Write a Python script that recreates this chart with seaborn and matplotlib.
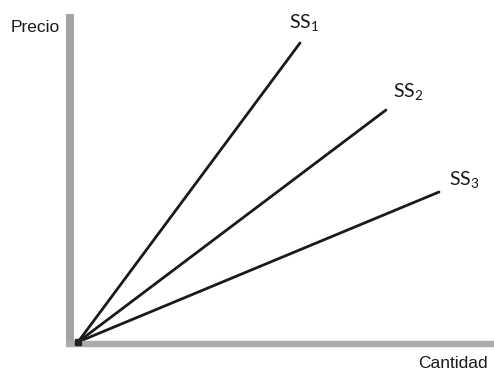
import matplotlib.pyplot as plt
import pandas as pd
import seaborn as sns

# Supply curves, all starting at the origin
curves = ["SS1", "SS2", "SS3"]
curve_labels = ["SS$_1$", "SS$_2$", "SS$_3$"]
quantity_end = [222, 308, 361]
price_end = [299, 232, 150]

rows = []
for name, q, p in zip(curves, quantity_end, price_end):
    rows.append({"curve": name, "Cantidad": 0, "Precio": 0})
    rows.append({"curve": name, "Cantidad": q, "Precio": p})
df = pd.DataFrame(rows)

sns.set_style("white")
plt.rcParams["mathtext.default"] = "regular"

fig = plt.figure(figsize=(4.94, 3.71), dpi=100)
ax = fig.add_axes([0, 0, 1, 1])

sns.lineplot(data=df, x="Cantidad", y="Precio", hue="curve",
             palette=["#1a1a1a"] * 3, estimator=None, linewidth=2.0,
             legend=False, ax=ax)

# thick grey axes like the scanned figure
ax.plot([-8, -8], [-5, 328], color="#a4a4a4", linewidth=5.8, solid_capstyle="butt")
ax.plot([-12, 416], [-2, -2], color="#acacac", linewidth=4.6, solid_capstyle="butt")
ax.plot([0], [0], marker="s", color="#222222", markersize=4)

ax.set_xlim(-78, 416)
ax.set_ylim(-29, 342)
ax.axis("off")

label_pos = [(211, 314), (315, 245), (371, 157)]
for lab, (x, y) in zip(curve_labels, label_pos):
    ax.text(x, y, lab, fontsize=14, family="Lato", ha="left", va="baseline",
            color="#1a1a1a")

ax.text(-43, 315, "Precio", fontsize=12.5, family="Liberation Sans",
        ha="center", va="center", color="#1a1a1a")
ax.text(375, -22, "Cantidad", fontsize=12.5, family="Liberation Sans",
        ha="center", va="center", color="#1a1a1a")

fig.savefig("out.png", dpi=100)
